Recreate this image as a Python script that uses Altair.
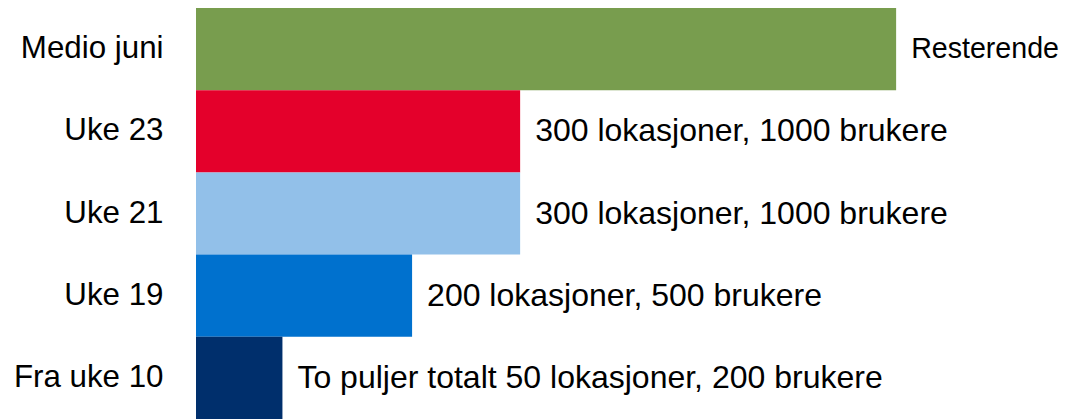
import altair as alt
import pandas as pd

categories = ["Medio juni", "Uke 23", "Uke 21", "Uke 19", "Fra uke 10"]
values = [648, 300, 300, 200, 80]
labels = [
    "Resterende",
    "300 lokasjoner, 1000 brukere",
    "300 lokasjoner, 1000 brukere",
    "200 lokasjoner, 500 brukere",
    "To puljer totalt 50 lokasjoner, 200 brukere",
]
colors = ["#789D4E", "#E4002B", "#92C0E9", "#0071CE", "#002F6C"]

df = pd.DataFrame({"cat": categories, "value": values, "label": labels})

FONT = "Liberation Sans"

y_enc = alt.Y(
    "cat:N",
    sort=categories,
    scale=alt.Scale(paddingInner=0, paddingOuter=0),
    axis=alt.Axis(
        title=None,
        domain=False,
        ticks=False,
        tickSize=0,
        grid=False,
        labelFont=FONT,
        labelFontSize=31.3,
        labelColor="#000000",
        labelPadding=33,
        labelLimit=400,
    ),
)
x_enc = alt.X("value:Q", scale=alt.Scale(domain=[0, 808]), axis=None)

bars = alt.Chart(df).mark_bar(cornerRadius=0).encode(
    y=y_enc,
    x=x_enc,
    color=alt.Color(
        "cat:N",
        sort=categories,
        scale=alt.Scale(domain=categories, range=colors),
        legend=None,
    ),
)

text = alt.Chart(df).mark_text(
    align="left",
    baseline="middle",
    dx=15,
    font=FONT,
    color="#000000",
).encode(
    y=alt.Y("cat:N", sort=categories),
    x=x_enc,
    text="label:N",
    size=alt.condition(alt.datum.cat == "Medio juni", alt.value(28.6), alt.value(32)),
)

chart = (
    alt.layer(bars, text)
    .properties(
        width=873,
        height=411,
        autosize=alt.AutoSizeParams(type="none"),
        padding={"left": 188, "top": 0, "right": 0, "bottom": 0},
        background="white",
    )
    .configure_view(stroke=None)
)

chart.save("out.html", embed_options={"renderer": "svg", "actions": False})
